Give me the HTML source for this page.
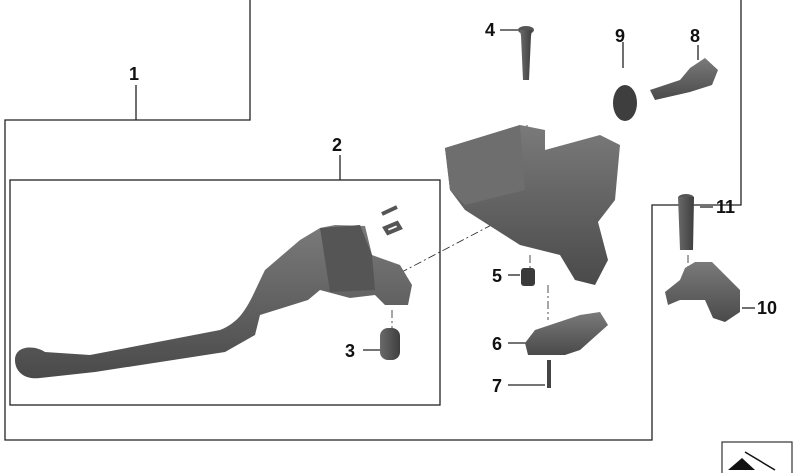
<!DOCTYPE html>
<html><head><style>
html,body{margin:0;padding:0;background:#fff;}
svg{display:block;}
text{font-family:"Liberation Sans",sans-serif;font-weight:bold;font-size:18px;fill:#111;}
</style></head><body>
<svg width="800" height="473" viewBox="0 0 800 473">
<defs>
<linearGradient id="g" x1="0" y1="0" x2="0" y2="1"><stop offset="0" stop-color="#7a7a7a"/><stop offset="1" stop-color="#4a4a4a"/></linearGradient>
<linearGradient id="g2" x1="0" y1="0" x2="1" y2="0"><stop offset="0" stop-color="#6a6a6a"/><stop offset="1" stop-color="#3e3e3e"/></linearGradient>
</defs>
<g fill="none" stroke="#222" stroke-width="1.3">
<polyline points="250,0 250,120 5,120 5,440 652,440 652,205 741,205 741,0"/>
<line x1="136" y1="85" x2="136" y2="120"/>
<rect x="10" y="180" width="430" height="225"/>
<line x1="340" y1="155" x2="340" y2="180"/>
<line x1="500" y1="30" x2="518" y2="30"/>
<line x1="698" y1="45" x2="698" y2="60"/>
<line x1="623" y1="42" x2="623" y2="68"/>
<line x1="700" y1="207" x2="713" y2="207"/>
<line x1="742" y1="308" x2="755" y2="308"/>
<line x1="508" y1="275" x2="520" y2="275"/>
<line x1="508" y1="343" x2="528" y2="343"/>
<line x1="508" y1="385" x2="545" y2="385"/>
<line x1="363" y1="350" x2="380" y2="350"/>
</g>
<g fill="none" stroke="#222" stroke-width="0.8" stroke-dasharray="8,3,2,3">
<line x1="527" y1="125" x2="527" y2="190"/>
<line x1="548" y1="208" x2="610" y2="170"/>
<line x1="400" y1="273" x2="520" y2="210"/>
<line x1="548" y1="285" x2="548" y2="320"/>
<line x1="392" y1="310" x2="392" y2="330"/>
<line x1="530" y1="255" x2="530" y2="268"/>
<line x1="688" y1="255" x2="688" y2="270"/>
</g>
<!-- lever -->
<path d="M15,360 C15,345 35,345 45,352 L90,355 L220,330 C245,320 250,300 265,270 L300,240 L320,228 L335,225 L365,226 L372,255 L400,265 L412,285 L408,305 L385,305 L375,295 L350,298 L320,290 L308,300 L260,315 L255,335 L225,352 L95,372 L40,378 C25,380 15,372 15,360Z" fill="url(#g)"/>
<path d="M320,228 L360,225 L372,255 L375,290 L330,292Z" fill="#555"/>
<path d="M385,228 l12,-5 l3,5 l-12,5z M382,214 l15,-7" stroke="#555" stroke-width="4" fill="none"/>
<rect x="380" y="328" width="20" height="32" rx="8" fill="url(#g2)"/>
<!-- housing -->
<path d="M445,148 L520,125 L545,130 L545,150 L600,135 L620,145 L615,200 L598,222 L608,260 L595,285 L575,280 L560,255 L520,245 L465,210 L450,190Z" fill="url(#g)"/>
<path d="M445,148 L520,125 L525,190 L465,205 L450,190Z" fill="#6e6e6e"/>
<!-- part 4 pin -->
<ellipse cx="526" cy="30" rx="8" ry="4" fill="#555"/>
<path d="M520,30 L532,30 L531,36 L529,80 L523,80 L521,36Z" fill="url(#g2)"/>
<!-- part 9 -->
<ellipse cx="625" cy="103" rx="12" ry="18" fill="#3e3e3e"/>
<!-- part 8 -->
<path d="M650,90 L680,80 L690,68 L705,58 L718,70 L712,85 L690,92 L655,100Z" fill="url(#g)"/>
<!-- part 5 -->
<rect x="521" y="268" width="14" height="18" rx="3" fill="#3a3a3a"/>
<!-- part 6 -->
<path d="M525,343 L535,330 L580,315 L600,312 L608,325 L580,350 L565,355 L528,355Z" fill="url(#g)"/>
<!-- part 7 -->
<rect x="547" y="360" width="4" height="28" fill="#444"/>
<!-- part 11 -->
<ellipse cx="686" cy="198" rx="8" ry="4" fill="#555"/>
<path d="M678,197 L694,197 L693,250 L680,250Z" fill="url(#g2)"/>
<!-- part 10 -->
<path d="M685,268 L695,262 L712,262 L720,270 L740,290 L740,312 L725,322 L713,318 L705,300 L680,300 L668,305 L665,292 L680,280Z" fill="url(#g)"/>
<text x="129" y="80">1</text>
<text x="332" y="151">2</text>
<text x="345" y="357">3</text>
<text x="485" y="36">4</text>
<text x="492" y="282">5</text>
<text x="492" y="350">6</text>
<text x="492" y="392">7</text>
<text x="690" y="42">8</text>
<text x="615" y="42">9</text>
<text x="757" y="314">10</text>
<text x="716" y="213">11</text>
<rect x="722" y="442" width="70" height="35" fill="#fff" stroke="#333" stroke-width="1.2"/>
<path d="M728,470 L742,458 L755,470Z" fill="#111"/>
<line x1="745" y1="452" x2="775" y2="470" stroke="#111" stroke-width="1.5"/>
</svg>
</body></html>
